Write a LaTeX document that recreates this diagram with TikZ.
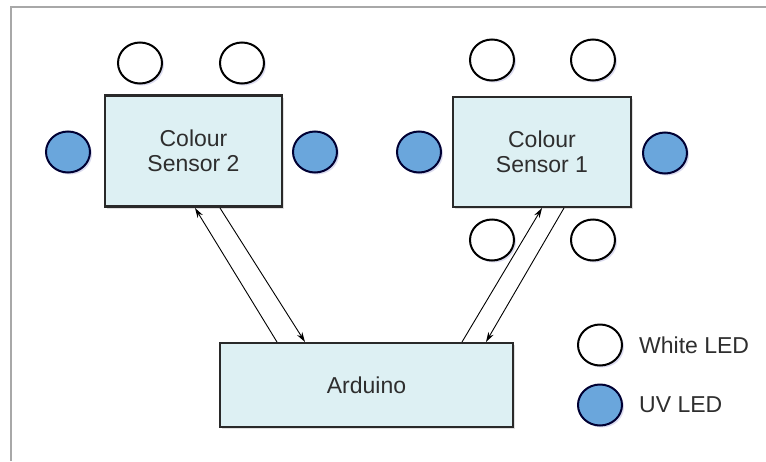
\documentclass[tikz,border=0pt]{standalone}
\usepackage{fontspec}
\setmainfont{Liberation Sans}
\usetikzlibrary{arrows.meta,shadows,shapes.geometric}
\definecolor{boxfill}{HTML}{DDF0F3}
\definecolor{uvfill}{HTML}{6AA6DC}
\definecolor{txt}{HTML}{2E2E2E}
\definecolor{framec}{HTML}{A8A8A8}
\tikzset{
  x=1pt,y=-1pt,
  blk/.style={draw=txt!90!black,line width=2.4pt,fill=boxfill,text=txt,font=\fontsize{23}{25}\selectfont,align=center,inner sep=0pt,
    drop shadow={shadow xshift=2pt,shadow yshift=-2pt,opacity=0.25,fill=gray}},
  whiteled/.style={draw=black,line width=2pt,fill=white,ellipse,minimum width=44pt,minimum height=41pt,inner sep=0pt,
    drop shadow={shadow xshift=2pt,shadow yshift=-2pt,opacity=0.2,fill=blue!40!gray}},
  uvled/.style={whiteled,draw=black!80!blue,fill=uvfill},
  lnk/.style={line width=0.9pt,-{Stealth[length=10pt,width=6pt]}},
  leg/.style={text=txt,font=\fontsize{23}{25}\selectfont,anchor=west,inner sep=0pt},
}
\begin{document}
\begin{tikzpicture}
\useasboundingbox (0,0) rectangle (766,461);
\fill[white] (0,0) rectangle (766,461);
\draw[framec,line width=2pt] (11,461) -- (11,7) -- (766,7);
% boxes
\node[blk,minimum width=177pt,minimum height=111pt] (s2) at (193.5,151) {Colour\\Sensor 2};
\node[blk,minimum width=178pt,minimum height=110pt] (s1) at (542,152) {Colour\\Sensor 1};
\node[blk,minimum width=293pt,minimum height=84pt] (ard) at (366.5,385) {Arduino};
% LEDs sensor 2
\node[whiteled] (w21) at (140,63) {};
\node[whiteled] (w22) at (242,63) {};
\node[uvled] (u21) at (68,152) {};
\node[uvled] (u22) at (315,152) {};
% LEDs sensor 1
\node[whiteled] (w11) at (492,60) {};
\node[whiteled] (w12) at (593,60) {};
\node[uvled] (u11) at (419,152) {};
\node[uvled] (u12) at (665,153) {};
\node[whiteled] (w13) at (492,240) {};
\node[whiteled] (w14) at (593,240) {};
% connectors
\coordinate (a1) at (277,342);
\coordinate (b1) at (195,208);
\coordinate (b2) at (220,208);
\coordinate (a2) at (305,342);
\coordinate (a3) at (462,342);
\coordinate (b3) at (542,208);
\coordinate (b4) at (564,208);
\coordinate (a4) at (486,342);
\draw[lnk] (a1) -- (b1);
\draw[lnk] (b2) -- (a2);
\draw[lnk] (a3) -- (b3);
\draw[lnk] (b4) -- (a4);
% legend
\node[whiteled] (lw) at (600,345) {};
\node[uvled] (lu) at (600,405) {};
\node[leg] (lwt) at (639,345) {White LED};
\node[leg] (lut) at (639,405) {UV LED};
\end{tikzpicture}
\end{document}
